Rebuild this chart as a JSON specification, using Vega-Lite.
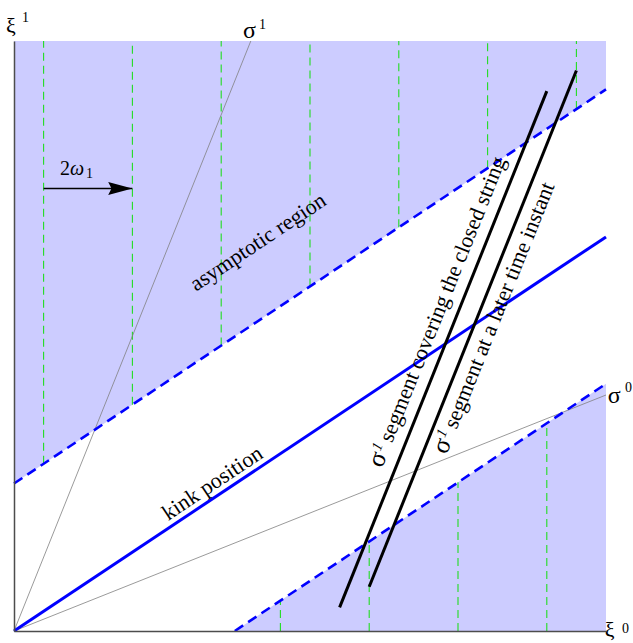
{
  "$schema": "https://vega.github.io/schema/vega-lite/v6.json",
  "width": 592,
  "height": 590,
  "autosize": {"type": "none"},
  "padding": {"left": 14, "top": 41, "right": 27, "bottom": 12},
  "background": "white",
  "config": {
    "view": {"stroke": null},
    "text": {"font": "Liberation Serif", "color": "black"}
  },
  "datasets": {
    "shade": [
      {"region": "upper", "x": 0, "lo": 2.5, "hi": 10},
      {"region": "upper", "x": 10, "lo": 9.18, "hi": 10},
      {"region": "lower", "x": 3.73, "lo": 0, "hi": 0},
      {"region": "lower", "x": 10, "lo": 0, "hi": 4.19}
    ],
    "guides": [
      {"x": 0.5, "y": 2.834, "y2": 10},
      {"x": 2.0, "y": 3.836, "y2": 10},
      {"x": 3.5, "y": 4.838, "y2": 10},
      {"x": 5.0, "y": 5.84, "y2": 10},
      {"x": 6.5, "y": 6.842, "y2": 10},
      {"x": 8.0, "y": 7.844, "y2": 10},
      {"x": 9.5, "y": 8.846, "y2": 10},
      {"x": 4.5, "y": 0, "y2": 0.516},
      {"x": 6.0, "y": 0, "y2": 1.518},
      {"x": 7.5, "y": 0, "y2": 2.52},
      {"x": 9.0, "y": 0, "y2": 3.522}
    ],
    "worldsheetAxes": [
      {"axis": "sigma1", "x": 0, "y": 0, "x2": 4, "y2": 10},
      {"axis": "sigma0", "x": 0, "y": 0, "x2": 10, "y2": 4}
    ],
    "asymptotes": [
      {"edge": "upper", "x": 0, "y": 2.5, "x2": 10, "y2": 9.18},
      {"edge": "lower", "x": 3.73, "y": 0, "x2": 10, "y2": 4.19}
    ],
    "kink": [
      {"x": 0, "y": 0, "x2": 10, "y2": 6.68}
    ],
    "segments": [
      {"seg": "closed string", "x": 5.5, "y": 0.4, "x2": 9.0, "y2": 9.15},
      {"seg": "later instant", "x": 6.0, "y": 0.75, "x2": 9.5, "y2": 9.5}
    ],
    "arrow": [
      {"x": 0.5, "y": 7.5, "x2": 2.0, "y2": 7.5}
    ],
    "arrowTip": [
      {"x": 2.0, "y": 7.5}
    ],
    "slantLabels": [
      {"text": "asymptotic region", "x": 4.122, "y": 6.593},
      {"text": "kink position", "x": 3.353, "y": 2.508}
    ],
    "segSigma": [
      {"text": "σ", "x": 6.216, "y": 2.751},
      {"text": "σ", "x": 7.306, "y": 2.98}
    ],
    "segIndex": [
      {"text": "1", "x": 6.185, "y": 3.038},
      {"text": "1", "x": 7.275, "y": 3.267}
    ],
    "segLabels": [
      {"text": "segment covering the closed string", "x": 6.386, "y": 3.176},
      {"text": "segment at a later time instant", "x": 7.476, "y": 3.405}
    ],
    "xiLabels": [
      {"text": "ξ", "x": -0.135, "y": 10.14},
      {"text": "ξ", "x": 9.98, "y": -0.1}
    ],
    "sigmaLabels": [
      {"text": "σ", "x": 3.87, "y": 10.05},
      {"text": "σ", "x": 10.03, "y": 3.86}
    ],
    "indices": [
      {"text": "1", "x": 0.135, "y": 10.32},
      {"text": "1", "x": 4.14, "y": 10.2},
      {"text": "0", "x": 10.32, "y": 4.05},
      {"text": "0", "x": 10.27, "y": -0.03},
      {"text": "1", "x": 1.216, "y": 7.678}
    ],
    "periodFactor": [
      {"text": "2", "x": 0.777, "y": 7.729}
    ],
    "periodSymbol": [
      {"text": "ω", "x": 0.946, "y": 7.729}
    ]
  },
  "layer": [
    {
      "data": {"name": "shade"},
      "mark": {"type": "area", "color": "#ccccff", "opacity": 1},
      "encoding": {
        "x": {
          "field": "x", "type": "quantitative",
          "scale": {"domain": [0, 10], "nice": false, "zero": false},
          "axis": {"title": null, "ticks": false, "labels": false, "grid": false, "domainColor": "#4d4d4d", "domainWidth": 1.5, "zindex": 1}
        },
        "y": {
          "field": "lo", "type": "quantitative",
          "scale": {"domain": [0, 10], "nice": false, "zero": false},
          "axis": {"title": null, "ticks": false, "labels": false, "grid": false, "domainColor": "#4d4d4d", "domainWidth": 1.5, "zindex": 1}
        },
        "y2": {"field": "hi"},
        "detail": {"field": "region"}
      }
    },
    {
      "data": {"name": "guides"},
      "mark": {"type": "rule", "color": "#22dd22", "strokeWidth": 1.1, "strokeDash": [8, 5]},
      "encoding": {
        "x": {"field": "x", "type": "quantitative"},
        "y": {"field": "y", "type": "quantitative"},
        "y2": {"field": "y2"}
      }
    },
    {
      "data": {"name": "worldsheetAxes"},
      "mark": {"type": "rule", "color": "#808080", "strokeWidth": 0.8},
      "encoding": {
        "x": {"field": "x", "type": "quantitative"},
        "y": {"field": "y", "type": "quantitative"},
        "x2": {"field": "x2"},
        "y2": {"field": "y2"}
      }
    },
    {
      "data": {"name": "asymptotes"},
      "mark": {"type": "rule", "color": "#0000ff", "strokeWidth": 2.6, "strokeDash": [10, 6]},
      "encoding": {
        "x": {"field": "x", "type": "quantitative"},
        "y": {"field": "y", "type": "quantitative"},
        "x2": {"field": "x2"},
        "y2": {"field": "y2"}
      }
    },
    {
      "data": {"name": "kink"},
      "mark": {"type": "rule", "color": "#0000ff", "strokeWidth": 3},
      "encoding": {
        "x": {"field": "x", "type": "quantitative"},
        "y": {"field": "y", "type": "quantitative"},
        "x2": {"field": "x2"},
        "y2": {"field": "y2"}
      }
    },
    {
      "data": {"name": "segments"},
      "mark": {"type": "rule", "color": "black", "strokeWidth": 3},
      "encoding": {
        "x": {"field": "x", "type": "quantitative"},
        "y": {"field": "y", "type": "quantitative"},
        "x2": {"field": "x2"},
        "y2": {"field": "y2"}
      }
    },
    {
      "data": {"name": "arrow"},
      "mark": {"type": "rule", "color": "black", "strokeWidth": 1.3},
      "encoding": {
        "x": {"field": "x", "type": "quantitative"},
        "y": {"field": "y", "type": "quantitative"},
        "x2": {"field": "x2"},
        "y2": {"field": "y2"}
      }
    },
    {
      "data": {"name": "arrowTip"},
      "mark": {"type": "point", "shape": "M-2.2,-0.6L0,0L-2.2,0.6L-1.9,0Z", "size": 484, "filled": true, "color": "black", "opacity": 1},
      "encoding": {
        "x": {"field": "x", "type": "quantitative"},
        "y": {"field": "y", "type": "quantitative"}
      }
    },
    {
      "data": {"name": "slantLabels"},
      "mark": {"type": "text", "fontSize": 22, "angle": 326.3, "align": "center", "baseline": "middle"},
      "encoding": {
        "x": {"field": "x", "type": "quantitative"},
        "y": {"field": "y", "type": "quantitative"},
        "text": {"field": "text"}
      }
    },
    {
      "data": {"name": "segSigma"},
      "mark": {"type": "text", "fontSize": 26, "angle": 291.9, "align": "left", "baseline": "alphabetic"},
      "encoding": {
        "x": {"field": "x", "type": "quantitative"},
        "y": {"field": "y", "type": "quantitative"},
        "text": {"field": "text"}
      }
    },
    {
      "data": {"name": "segIndex"},
      "mark": {"type": "text", "fontSize": 15, "fontStyle": "italic", "angle": 291.9, "align": "left", "baseline": "alphabetic"},
      "encoding": {
        "x": {"field": "x", "type": "quantitative"},
        "y": {"field": "y", "type": "quantitative"},
        "text": {"field": "text"}
      }
    },
    {
      "data": {"name": "segLabels"},
      "mark": {"type": "text", "fontSize": 22, "angle": 291.9, "align": "left", "baseline": "alphabetic"},
      "encoding": {
        "x": {"field": "x", "type": "quantitative"},
        "y": {"field": "y", "type": "quantitative"},
        "text": {"field": "text"}
      }
    },
    {
      "data": {"name": "xiLabels"},
      "mark": {"type": "text", "fontSize": 22, "align": "left", "baseline": "alphabetic"},
      "encoding": {
        "x": {"field": "x", "type": "quantitative"},
        "y": {"field": "y", "type": "quantitative"},
        "text": {"field": "text"}
      }
    },
    {
      "data": {"name": "sigmaLabels"},
      "mark": {"type": "text", "fontSize": 24, "align": "left", "baseline": "alphabetic"},
      "encoding": {
        "x": {"field": "x", "type": "quantitative"},
        "y": {"field": "y", "type": "quantitative"},
        "text": {"field": "text"}
      }
    },
    {
      "data": {"name": "indices"},
      "mark": {"type": "text", "fontSize": 14, "align": "left", "baseline": "alphabetic"},
      "encoding": {
        "x": {"field": "x", "type": "quantitative"},
        "y": {"field": "y", "type": "quantitative"},
        "text": {"field": "text"}
      }
    },
    {
      "data": {"name": "periodFactor"},
      "mark": {"type": "text", "fontSize": 20, "align": "left", "baseline": "alphabetic"},
      "encoding": {
        "x": {"field": "x", "type": "quantitative"},
        "y": {"field": "y", "type": "quantitative"},
        "text": {"field": "text"}
      }
    },
    {
      "data": {"name": "periodSymbol"},
      "mark": {"type": "text", "fontSize": 20, "fontStyle": "italic", "align": "left", "baseline": "alphabetic"},
      "encoding": {
        "x": {"field": "x", "type": "quantitative"},
        "y": {"field": "y", "type": "quantitative"},
        "text": {"field": "text"}
      }
    }
  ]
}
